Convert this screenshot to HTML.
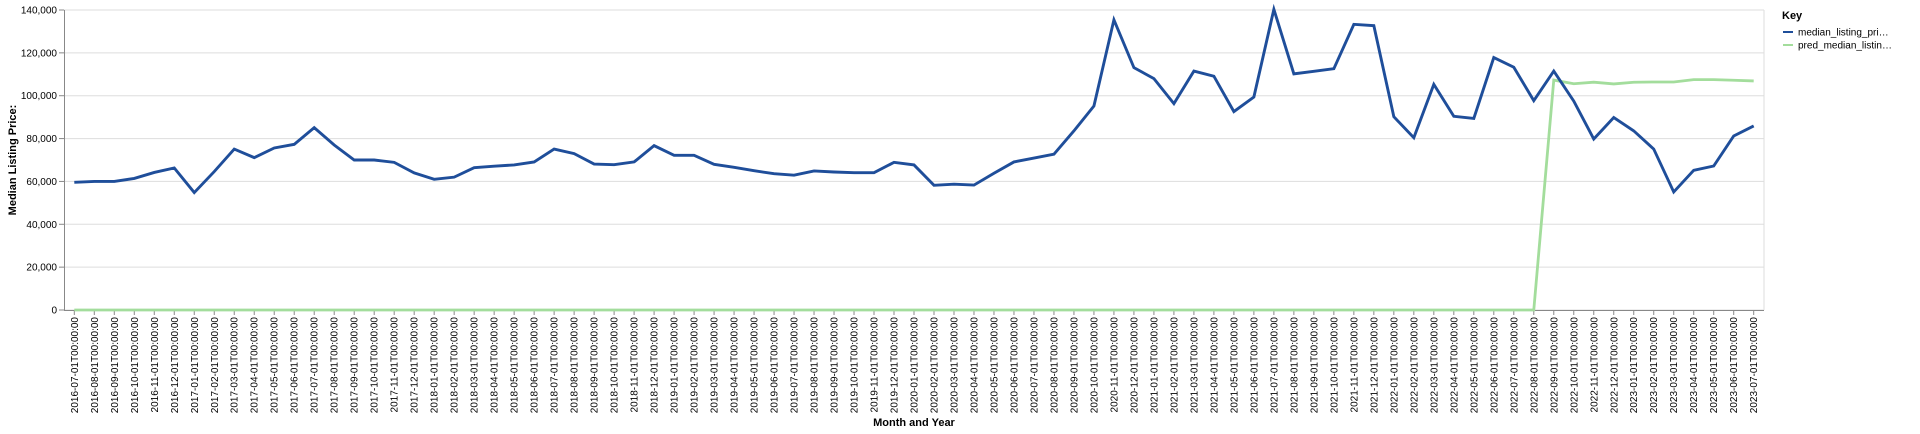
<!DOCTYPE html>
<html><head><meta charset="utf-8"><style>
html,body{margin:0;padding:0;background:#fff;}
svg{display:block;font-family:"Liberation Sans",Arial,sans-serif;}
</style></head><body>
<svg id="chart" width="1920" height="434" xmlns="http://www.w3.org/2000/svg">
<g id="grid"></g>
<g id="yaxis"></g>
<g id="xaxis"></g>
<g id="series"></g>
<text transform="translate(16,160) rotate(-90)" text-anchor="middle" font-size="11" font-weight="bold" fill="#000">Median Listing Price:</text>
<text x="914" y="426" text-anchor="middle" font-size="11" font-weight="bold" fill="#000">Month and Year</text>
<g>
<text x="1782" y="19" font-size="11" font-weight="bold" fill="#000">Key</text>
<g>
<line x1="1783" y1="32" x2="1793" y2="32" stroke="#1f4e9a" stroke-width="2"/>
<text x="1798" y="35.5" font-size="10" fill="#000">median_listing_pri…</text></g>
<g>
<line x1="1783" y1="45" x2="1793" y2="45" stroke="#a3dd9c" stroke-width="2"/>
<text x="1798" y="48.5" font-size="10" fill="#000">pred_median_listin…</text></g>
</g>
</svg>
<script>
const startYear = 2016, startMonth = 7;
const medianValues = [59600,60000,60000,61400,64200,66300,54800,64600,75100,71100,75600,77300,85100,77000,70000,70000,68900,64000,61000,62000,66400,67100,67700,69100,75100,73000,68100,67800,69100,76700,72200,72200,68000,66600,65000,63600,62900,64900,64400,64100,64100,68900,67700,58200,58700,58300,63800,69100,70900,72700,83600,95200,135400,113100,108000,96300,111500,109100,92600,99400,140300,110200,111400,112600,133300,132700,90200,80400,105300,90400,89400,117800,113300,97700,111500,97500,79800,89800,83600,75100,55100,65200,67200,81200,85900];
const predValues = [0,0,0,0,0,0,0,0,0,0,0,0,0,0,0,0,0,0,0,0,0,0,0,0,0,0,0,0,0,0,0,0,0,0,0,0,0,0,0,0,0,0,0,0,0,0,0,0,0,0,0,0,0,0,0,0,0,0,0,0,0,0,0,0,0,0,0,0,0,0,0,0,0,0,107300,105600,106300,105500,106300,106400,106400,107500,107500,107200,106900];
const yTicks = [0,20000,40000,60000,80000,100000,120000,140000];
const categories = medianValues.map((_, i) => {
  const m = startMonth - 1 + i; const y = startYear + Math.floor(m / 12); const mo = (m % 12) + 1;
  return y + '-' + String(mo).padStart(2, '0') + '-01T00:00:00';
});
const NS = 'http://www.w3.org/2000/svg';
const L = 64, R = 1764, T = 10, B = 310;
const x = i => 74.3 + i * (R - L - 20.6) / (categories.length - 1);
const y = v => B - (v / 140000) * (B - T);
function mk(tag, attrs, parent) { const e = document.createElementNS(NS, tag); for (const k in attrs) e.setAttribute(k, attrs[k]); parent.appendChild(e); return e; }
const grid = document.getElementById('grid'), ya = document.getElementById('yaxis'), xa = document.getElementById('xaxis'), se = document.getElementById('series');
yTicks.forEach(t => {
  const g = mk('line', {x1: L, x2: R, y1: y(t), y2: y(t), stroke: '#ddd', 'stroke-width': 1}, grid);
  
  
  mk('line', {x1: L - 5, x2: L, y1: y(t), y2: y(t), stroke: '#888'}, ya);
  const tx = mk('text', {x: L - 7, y: y(t) + 3.5, 'text-anchor': 'end', 'font-size': 10, fill: '#000'}, ya);
  tx.textContent = t.toLocaleString('en-US');
  
  
});
mk('line', {x1: L + 0.5, x2: L + 0.5, y1: T, y2: B, stroke: '#888'}, ya);
mk('line', {x1: R, x2: R, y1: T, y2: B, stroke: '#ddd'}, grid);
mk('line', {x1: L, x2: R, y1: T, y2: T, stroke: '#ddd'}, grid);
mk('line', {x1: L, x2: R, y1: B + 0.5, y2: B + 0.5, stroke: '#888'}, xa);
categories.forEach((c, i) => {
  mk('line', {x1: x(i), x2: x(i), y1: B, y2: B + 5, stroke: '#888'}, xa);
  const tx = mk('text', {transform: 'translate(' + (x(i) + 3.5) + ',' + (B + 7) + ') rotate(-90)', 'text-anchor': 'end', 'font-size': 10, fill: '#000'}, xa);
  tx.textContent = c;
  
  
});
const pPred = mk('path', {d: predValues.map((v, i) => (i ? 'L' : 'M') + x(i) + ',' + y(v)).join(''), fill: 'none', stroke: '#a3dd9c', 'stroke-width': 2.8}, se);


const pMed = mk('path', {d: medianValues.map((v, i) => (i ? 'L' : 'M') + x(i) + ',' + y(v)).join(''), fill: 'none', stroke: '#1f4e9a', 'stroke-width': 2.9, 'stroke-linejoin': 'miter'}, se);


</script>
</body></html>
